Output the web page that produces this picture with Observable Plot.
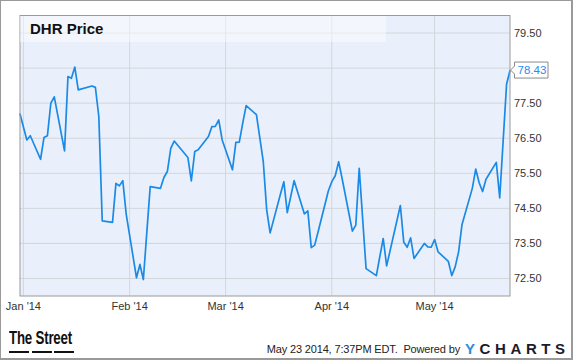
<!DOCTYPE html>
<html>
<head>
<meta charset="utf-8">
<script src="https://cdn.jsdelivr.net/npm/d3@7"></script>
<script src="https://cdn.jsdelivr.net/npm/@observablehq/plot@0.6"></script>
<style>
  body { margin: 0; background: #fff; font-family: "Liberation Sans", Arial, sans-serif; }
  #wrap { position: relative; width: 575px; height: 362px; overflow: hidden; background: #fff; }
  #chart { position: absolute; left: 0; top: 0; }
  #border { position: absolute; left: 0; top: 0; width: 570px; height: 357px;
            border-style: solid; border-color: #9a9a9a; border-width: 1px 2px 2px 1px; pointer-events: none; }
  #titlebox { position: absolute; left: 20px; top: 16px; width: 366px; height: 26px;
              background: rgba(255,255,255,0.45); }
  #title { position: absolute; left: 30px; top: 20.8px; font: bold 15px/1 "Liberation Sans", Arial, sans-serif; color: #111; white-space: nowrap; }
  #street { position: absolute; left: 9px; top: 328px; font: bold 19px/1 "Liberation Sans", Arial, sans-serif; color: #111; white-space: nowrap;
            transform: scaleX(0.70); transform-origin: 0 0; letter-spacing: -0.3px; }
  .dash { position: absolute; top: 350.5px; height: 2px; background: #111; width: 20px; }
  #stamp { position: absolute; right: 115px; top: 344px; font: 11px/1 "Liberation Sans", Arial, sans-serif; color: #222; white-space: nowrap; letter-spacing: -0.15px; }
  #ycharts { position: absolute; left: 465px; top: 340.5px; font: bold 15px/1 "Liberation Sans", Arial, sans-serif; color: #1b1b2b; letter-spacing: 4.6px; white-space: nowrap; }
  #ycharts .y { color: #2a8fdc; }
</style>
</head>
<body>
<div id="wrap">
  <div id="chart"></div>
  <div id="titlebox"></div>
  <div id="title">DHR Price</div>
  <div id="street">The Street</div>
  <div class="dash" style="left:9px"></div>
  <div class="dash" style="left:31.5px"></div>
  <div class="dash" style="left:54px"></div>
  <div id="stamp">May 23 2014, 7:37PM EDT.&nbsp; Powered by</div>
  <div id="ycharts"><span class="y">Y</span>CHARTS</div>
  <div id="border"></div>
</div>
<script>
// ---- data ----
const dates = [
  "2013-12-31",
  "2014-01-02","2014-01-03","2014-01-06","2014-01-07","2014-01-08","2014-01-09","2014-01-10",
  "2014-01-13","2014-01-14","2014-01-15","2014-01-16","2014-01-17","2014-01-21","2014-01-22",
  "2014-01-23","2014-01-24","2014-01-27","2014-01-28","2014-01-29","2014-01-30","2014-01-31",
  "2014-02-03","2014-02-04","2014-02-05","2014-02-06","2014-02-07","2014-02-10","2014-02-11",
  "2014-02-12","2014-02-13","2014-02-14","2014-02-18","2014-02-19","2014-02-20","2014-02-21",
  "2014-02-24","2014-02-25","2014-02-26","2014-02-27","2014-02-28",
  "2014-03-03","2014-03-04","2014-03-05","2014-03-06","2014-03-07","2014-03-10","2014-03-11",
  "2014-03-12","2014-03-13","2014-03-14","2014-03-17","2014-03-18","2014-03-19","2014-03-20",
  "2014-03-21","2014-03-24","2014-03-25","2014-03-26","2014-03-27","2014-03-28","2014-03-31",
  "2014-04-01","2014-04-02","2014-04-03","2014-04-04","2014-04-07","2014-04-08","2014-04-09",
  "2014-04-10","2014-04-11","2014-04-14","2014-04-15","2014-04-16","2014-04-17","2014-04-21",
  "2014-04-22","2014-04-23","2014-04-24","2014-04-25","2014-04-28","2014-04-29","2014-04-30",
  "2014-05-01","2014-05-02","2014-05-05","2014-05-06","2014-05-07","2014-05-08","2014-05-09",
  "2014-05-12","2014-05-13","2014-05-14","2014-05-15","2014-05-16","2014-05-19","2014-05-20",
  "2014-05-21","2014-05-22","2014-05-23"
];
const prices = [
  77.19,
  76.45, 76.57, 75.90, 76.52, 76.57, 77.50, 77.68,
  76.14, 78.26, 78.21, 78.53, 77.88, 77.99, 77.95,
  77.12, 74.14, 74.10, 75.21, 75.14, 75.29, 74.33,
  72.52, 72.90, 72.47, 73.80, 75.12, 75.07, 75.38,
  75.55, 76.21, 76.42, 75.95, 75.28, 76.12, 76.17,
  76.55, 76.83, 76.84, 77.02, 76.45,
  75.60, 76.38, 76.39, 76.93, 77.43, 77.17, 76.50,
  75.83, 74.45, 73.80, 74.90, 75.26, 74.38, 74.83,
  75.29, 74.34, 74.43, 73.38, 73.45, 73.83, 75.00,
  75.26, 75.43, 75.83, 75.35, 73.85, 74.02, 75.64,
  74.20, 72.78, 72.58, 73.12, 73.64, 72.86, 74.58,
  73.53, 73.39, 73.66, 73.07, 73.50, 73.40, 73.39,
  73.61, 73.26, 72.99, 72.58, 72.83, 73.26, 74.04,
  75.07, 75.62, 75.23, 74.98, 75.33, 75.81, 74.80,
  76.42, 78.04, 78.43
];
const monthTicks = ["2014-01-01","2014-02-01","2014-03-01","2014-04-01","2014-05-01"];
const yGridValues = [72.5, 73.5, 74.5, 75.5, 76.5, 77.5, 78.5, 79.5];
const yTickLabels = [72.5, 73.5, 74.5, 75.5, 76.5, 77.5, 79.5];
const xDomain = ["2013-12-31", "2014-05-23"];
const yDomain = [72, 80];
const lastLabel = "78.43";

// ---- build ----
const data = dates.map((d, i) => ({date: new Date(d), price: prices[i]}));
const months = monthTicks.map(d => new Date(d));

const plot = Plot.plot({
  width: 575,
  height: 320,
  marginTop: 15,
  marginLeft: 19.5,
  marginRight: 65.5,
  marginBottom: 24.5,
  x: {type: "utc", domain: xDomain.map(d => new Date(d))},
  y: {domain: yDomain},
  style: {fontFamily: "'Liberation Sans', Arial, sans-serif", fontSize: "11px", color: "#333", background: "transparent", overflow: "visible"},
  marks: [
    Plot.frame({fill: "#eaf0fb"}),
    Plot.ruleY(yGridValues, {stroke: "#d3d5da", strokeWidth: 1}),
    Plot.ruleX(months, {stroke: "#d3d5da", strokeWidth: 1}),
    Plot.axisX({ticks: months, tickSize: 0, tickPadding: 6, tickFormat: d3.utcFormat("%b '%y"), fill: "#333", fontSize: 11, label: null}),
    Plot.axisY({anchor: "right", ticks: yTickLabels, tickSize: 0, tickPadding: 4, tickFormat: d => d.toFixed(2), fill: "#333", fontSize: 11, label: null}),
    Plot.line(data, {x: "date", y: "price", stroke: "#1a8ae6", strokeWidth: 1.7}),
    Plot.frame({stroke: "#9a9a9a"})
  ]
});

// last-value callout placed through the plot's own scales
const sx = plot.scale("x"), sy = plot.scale("y");
const last = data[data.length - 1];
const px = sx.apply(last.date), py = sy.apply(last.price);
const g = d3.select(plot).append("g");
g.append("path")
  .attr("d", `M${px + 1},${py} L${px + 5},${py - 4} V${py - 8} H${px + 38.5} V${py + 8} H${px + 5} V${py + 4} Z`)
  .attr("fill", "#fff").attr("stroke", "#8a8a8a").attr("stroke-width", 1);
g.append("text")
  .attr("x", px + 8).attr("y", py).attr("dy", "0.36em")
  .attr("text-anchor", "start")
  .attr("fill", "#1f8ef1").attr("font-size", 11.5)
  .text(lastLabel);

document.getElementById("chart").appendChild(plot);
</script>
</body>
</html>
